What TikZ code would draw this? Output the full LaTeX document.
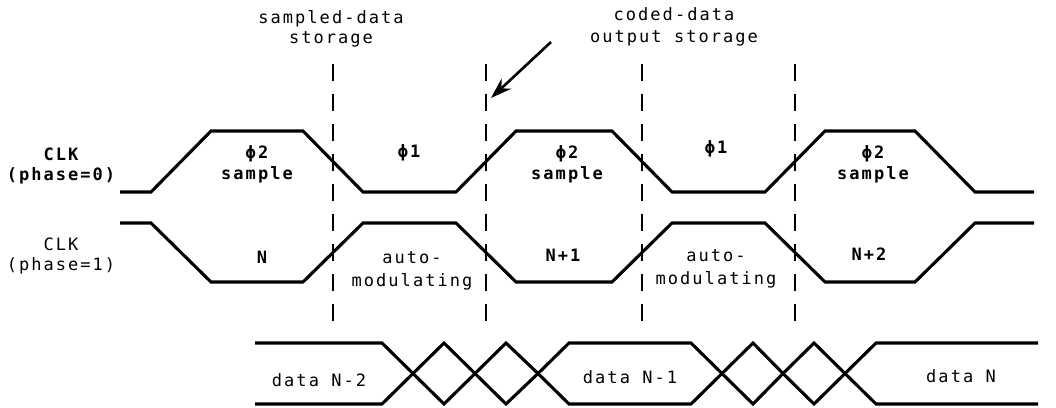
\documentclass[tikz,border=0pt]{standalone}
\usepackage{fontspec}
\newfontfamily\plotfont[LetterSpace=12]{DejaVu Sans Mono}
\usetikzlibrary{arrows.meta}
\begin{document}
\begin{tikzpicture}[x=1pt,y=-1pt,
  wave/.style={line width=3.1pt, line join=miter},
  guide/.style={line width=2.5pt, dash pattern=on 17pt off 13pt},
  pointer/.style={line width=2.6pt, -{Stealth[length=21pt,width=14pt]}},
  lbl/.style={font=\plotfont\fontsize{17}{20}\selectfont, inner sep=0pt, align=center},
  blbl/.style={font=\plotfont\bfseries\fontsize{17}{20}\selectfont, inner sep=0pt, align=center}]
\useasboundingbox (0,0) rectangle (1056,407);

% sampling instants (dashed guides)
\foreach \gx in {333,486,642,795}
  \draw[guide] (\gx,64) -- (\gx,333);

% CLK, phase 0
\draw[wave] (120,192) -- (151,192) -- (211,131) -- (303,131) -- (363,192)
  -- (456,192) -- (516,131) -- (612,131) -- (672,192) -- (765,192)
  -- (825,131) -- (915,131) -- (975,192) -- (1034,192);

% CLK, phase 1
\draw[wave] (120,223) -- (151,223) -- (211,282) -- (303,282) -- (363,223)
  -- (456,223) -- (516,282) -- (612,282) -- (672,223) -- (765,223)
  -- (825,282) -- (915,282) -- (975,223) -- (1034,223);

% data bus
\draw[wave] (255,343) -- (382,343) -- (413,373.5) -- (444,404) -- (475,373.5)
  -- (506,343) -- (538,373.5) -- (569,404) -- (691,404) -- (722,373.5)
  -- (753,343) -- (783,373.5) -- (814,404) -- (845,373.5) -- (876,343) -- (1038,343);
\draw[wave] (255,404) -- (382,404) -- (413,373.5) -- (444,343) -- (475,373.5)
  -- (506,404) -- (538,373.5) -- (569,343) -- (691,343) -- (722,373.5)
  -- (753,404) -- (783,373.5) -- (814,343) -- (845,373.5) -- (876,404) -- (1038,404);

% header labels
\node[lbl] (sds) at (331,29) {sampled-data\\storage};
\node[lbl] (cds) at (674,27) {coded-data\\[2pt]output storage};
\coordinate (ptrTail) at (551,42);
\coordinate (ptrTip) at (491,98);
\draw[pointer] (ptrTail) -- (ptrTip);

% signal names
\node[blbl] (clk0) at (61,166) {CLK\\(phase=0)};
\node[lbl] (clk1) at (61,256) {CLK\\(phase=1)};

% phase labels, phase 0
\node[blbl] (p2a) at (257,164) {ϕ2\\[1pt]sample};
\node[blbl] (p1a) at (409,153) {ϕ1};
\node[blbl] (p2b) at (567,164) {ϕ2\\[1pt]sample};
\node[blbl] (p1b) at (716,149) {ϕ1};
\node[blbl] (p2c) at (873,164) {ϕ2\\[1pt]sample};

% phase labels, phase 1
\node[blbl] (na) at (262,257) {N};
\node[lbl] (ama) at (412,271) {auto-\\[3pt]modulating};
\node[blbl] (nb) at (563,255) {N+1};
\node[lbl] (amb) at (716,269) {auto-\\[3pt]modulating};
\node[blbl] (nc) at (869,254) {N+2};

% bus labels
\node[lbl] (d2) at (319,380) {data N-2};
\node[lbl] (d1) at (630,377) {data N-1};
\node[lbl] (d0) at (961,376) {data N};
\end{tikzpicture}
\end{document}
